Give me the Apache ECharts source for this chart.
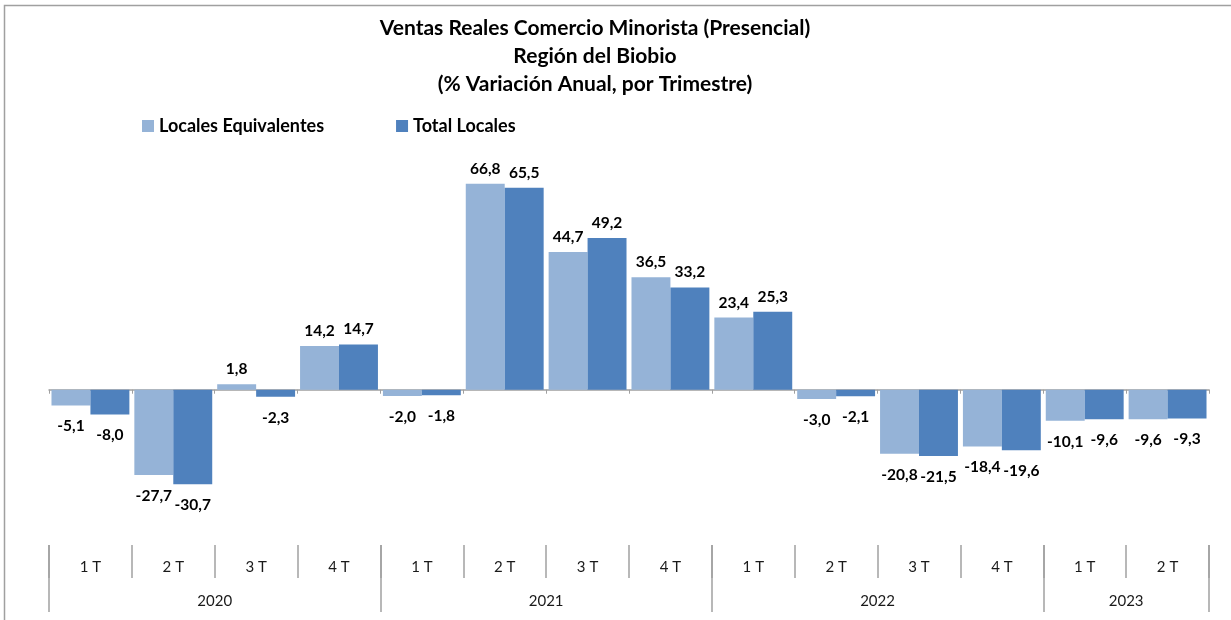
<!DOCTYPE html>
<html>
<head>
<meta charset="utf-8">
<script src="https://cdn.jsdelivr.net/npm/echarts@6/dist/echarts.min.js"></script>
<style>
  html, body { margin: 0; padding: 0; background: #fff; }
  #myChart { width: 1231px; height: 620px; }
</style>
</head>
<body>
<div id="myChart"></div>
<script>
// datos
var quarters = ['1 T', '2 T', '3 T', '4 T', '1 T', '2 T', '3 T', '4 T', '1 T', '2 T', '3 T', '4 T', '1 T', '2 T'];
var years = ['2020', '2021', '2022', '2023'];
var yearCounts = [4, 4, 4, 2];
var localesEquiv = [-5.1, -27.7, 1.8, 14.2, -2.0, 66.8, 44.7, 36.5, 23.4, -3.0, -20.8, -18.4, -10.1, -9.6];
var totalLocales = [-8.0, -30.7, -2.3, 14.7, -1.8, 65.5, 49.2, 33.2, 25.3, -2.1, -21.5, -19.6, -9.6, -9.3];

var FONT = 'Lato';
var GRAY = '#a0a0a0';

// eje de años: puntos cada medio trimestre, etiqueta al centro de cada año
var yearAxisData = [];
var yearBounds = [0];
var pos = 0;
for (var i = 0; i <= quarters.length * 2; i++) yearAxisData.push('');
for (var j = 0; j < years.length; j++) {
  yearAxisData[pos * 2 + yearCounts[j]] = years[j];
  pos += yearCounts[j];
  yearBounds.push(pos * 2);
}

function fmt(v) {
  return v.toFixed(1).replace('.', ',');
}

function barData(arr) {
  return arr.map(function (v) {
    return {
      value: v,
      label: v < 0 ? { position: 'bottom', distance: 13 } : { position: 'top', distance: 7 }
    };
  });
}

var myChart = echarts.init(document.getElementById('myChart'));
var option = {
  animation: false,
  title: {
    text: 'Ventas Reales Comercio Minorista (Presencial)\nRegión del Biobio\n(% Variación Anual, por Trimestre)',
    left: 590,
    top: 9,
    textAlign: 'center',
    textStyle: { fontFamily: FONT, fontSize: 21, fontWeight: 'bold', color: '#000', lineHeight: 28 }
  },
  legend: {
    left: 137,
    top: 112,
    itemWidth: 12,
    itemHeight: 12,
    itemGap: 72,
    icon: 'rect',
    textStyle: { fontFamily: FONT, fontSize: 18, fontWeight: 'bold', color: '#000' },
    data: ['Locales Equivalentes', 'Total Locales']
  },
  graphic: [{
    type: 'rect',
    shape: { x: 4.5, y: 5.5, width: 1400, height: 800 },
    style: { fill: 'none', stroke: GRAY, lineWidth: 1.5 },
    silent: true
  }],
  grid: [
    { left: 49, right: 22, top: 174, height: 339 },
    { left: 49, right: 22, top: 545, height: 33 },
    { left: 49, right: 22, top: 545, height: 67 }
  ],
  xAxis: [
    {
      type: 'category', gridIndex: 0, data: quarters,
      axisLine: { onZero: true, lineStyle: { color: GRAY, width: 1.5 } },
      axisTick: { show: true, length: 4, lineStyle: { color: GRAY } },
      axisLabel: { show: false }
    },
    {
      type: 'category', gridIndex: 1, data: quarters,
      axisLine: { show: false },
      axisTick: { show: false },
      splitLine: { show: true, interval: 0, lineStyle: { color: GRAY, width: 1.5 } },
      axisLabel: { inside: true, margin: 3, interval: 0, fontFamily: FONT, fontSize: 15, color: '#1a1a1a' }
    },
    {
      type: 'category', gridIndex: 2, data: yearAxisData, boundaryGap: false,
      axisLine: { show: false },
      axisTick: { show: false },
      splitLine: {
        show: true,
        interval: function (idx) { return yearBounds.indexOf(idx) >= 0; },
        lineStyle: { color: GRAY, width: 1.5 }
      },
      axisLabel: { inside: true, margin: 3, interval: 0, fontFamily: FONT, fontSize: 15, color: '#1a1a1a' }
    }
  ],
  yAxis: [
    { type: 'value', gridIndex: 0, min: -40, max: 70, show: false },
    { type: 'value', gridIndex: 1, show: false },
    { type: 'value', gridIndex: 2, show: false }
  ],
  series: [
    {
      name: 'Locales Equivalentes',
      type: 'bar',
      xAxisIndex: 0, yAxisIndex: 0,
      barGap: '0%',
      barCategoryGap: '6%',
      itemStyle: { color: '#95b3d7' },
      label: {
        show: true, fontFamily: FONT, fontSize: 15.5, fontWeight: 'bold', color: '#000',
        formatter: function (p) { return fmt(p.value); }
      },
      data: barData(localesEquiv)
    },
    {
      name: 'Total Locales',
      type: 'bar',
      xAxisIndex: 0, yAxisIndex: 0,
      barGap: '0%',
      barCategoryGap: '6%',
      itemStyle: { color: '#4f81bd' },
      label: {
        show: true, fontFamily: FONT, fontSize: 15.5, fontWeight: 'bold', color: '#000',
        formatter: function (p) { return fmt(p.value); }
      },
      data: barData(totalLocales)
    }
  ]
};
myChart.setOption(option);
</script>
</body>
</html>
